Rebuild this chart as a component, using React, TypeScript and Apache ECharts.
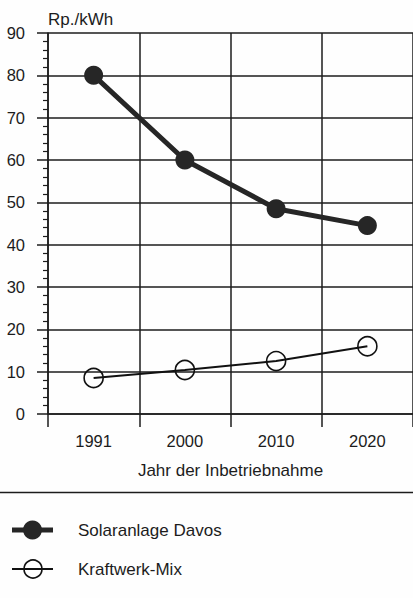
import React, { useEffect, useRef } from "react";
import * as echarts from "echarts";

const years = ["1991", "2000", "2010", "2020"];
const solarDavos = [80, 60, 48.5, 44.5];
const kraftwerkMix = [8.5, 10.4, 12.5, 16];
const yMin = 0;
const yMax = 90;
const yStep = 10;
const yUnit = "Rp./kWh";
const xTitle = "Jahr der Inbetriebnahme";
const legendNames = ["Solaranlage Davos", "Kraftwerk-Mix"];

const FONT = "'Liberation Sans', Arial, Helvetica, sans-serif";
const INK = "#1c1c1c";

export default function App() {
  const ref = useRef<HTMLDivElement>(null);
  useEffect(() => {
    if (!ref.current) return;
    const chart = echarts.init(ref.current, undefined, { renderer: "svg" });
    chart.setOption({
      animation: false,
      backgroundColor: "#fefefe",
      textStyle: { fontFamily: FONT, color: INK },
      grid: { left: 48, top: 33, width: 368, height: 381, containLabel: false },
      xAxis: {
        type: "category",
        data: years,
        boundaryGap: true,
        name: xTitle,
        nameLocation: "middle",
        nameGap: 48,
        nameTextStyle: { fontSize: 17, color: INK, fontFamily: FONT },
        axisLine: { show: true, lineStyle: { color: INK, width: 1.5 } },
        axisTick: { show: true, interval: 0, length: 13, lineStyle: { color: INK, width: 1.5 } },
        axisLabel: { fontSize: 16.5, color: INK, margin: 18, fontFamily: FONT },
        splitLine: { show: true, interval: 0, lineStyle: { color: INK, width: 1.5 } },
      },
      yAxis: {
        type: "value",
        min: yMin,
        max: yMax,
        interval: yStep,
        name: yUnit,
        nameLocation: "end",
        nameGap: 5,
        nameTextStyle: { fontSize: 17, color: INK, align: "left", fontFamily: FONT },
        axisLine: { show: true, lineStyle: { color: INK, width: 1.5 } },
        axisTick: { show: true, length: 11, lineStyle: { color: INK, width: 1.5 } },
        minorTick: { show: true, splitNumber: 5, length: 5, lineStyle: { color: INK, width: 1.2 } },
        axisLabel: { fontSize: 16.5, color: INK, margin: 23, fontFamily: FONT },
        splitLine: { show: true, lineStyle: { color: INK, width: 1.5 } },
      },
      series: [
        {
          name: legendNames[1],
          type: "line",
          data: kraftwerkMix,
          symbol: "circle",
          symbolSize: 19,
          lineStyle: { color: "#111", width: 2 },
          itemStyle: { color: "rgba(255,255,255,0)", borderColor: "#111", borderWidth: 1.6 },
          z: 3,
        },
        {
          name: legendNames[0],
          type: "line",
          data: solarDavos,
          symbol: "circle",
          symbolSize: 19,
          lineStyle: { color: "#262626", width: 5 },
          itemStyle: { color: "#262626" },
          z: 4,
        },
      ],
      graphic: [
        {
          type: "line",
          shape: { x1: 0, y1: 492.5, x2: 413, y2: 492.5 },
          style: { stroke: INK, lineWidth: 1.5 },
        },
        {
          type: "line",
          shape: { x1: 12, y1: 530, x2: 53, y2: 530 },
          style: { stroke: "#262626", lineWidth: 5 },
        },
        {
          type: "circle",
          shape: { cx: 32.5, cy: 530, r: 9.5 },
          style: { fill: "#262626" },
        },
        {
          type: "text",
          x: 78,
          y: 530,
          style: { text: legendNames[0], font: `17px ${FONT}`, fill: INK, verticalAlign: "middle" },
        },
        {
          type: "circle",
          shape: { cx: 33, cy: 569, r: 9 },
          style: { fill: "none", stroke: "#111", lineWidth: 1.6 },
        },
        {
          type: "line",
          shape: { x1: 12, y1: 569, x2: 53, y2: 569 },
          style: { stroke: "#111", lineWidth: 2 },
        },
        {
          type: "text",
          x: 78,
          y: 569,
          style: { text: legendNames[1], font: `17px ${FONT}`, fill: INK, verticalAlign: "middle" },
        },
      ],
    });
    return () => chart.dispose();
  }, []);
  return (
    <div
      ref={ref}
      style={{ position: "absolute", left: 0, top: 0, width: 413, height: 598 }}
    />
  );
}
